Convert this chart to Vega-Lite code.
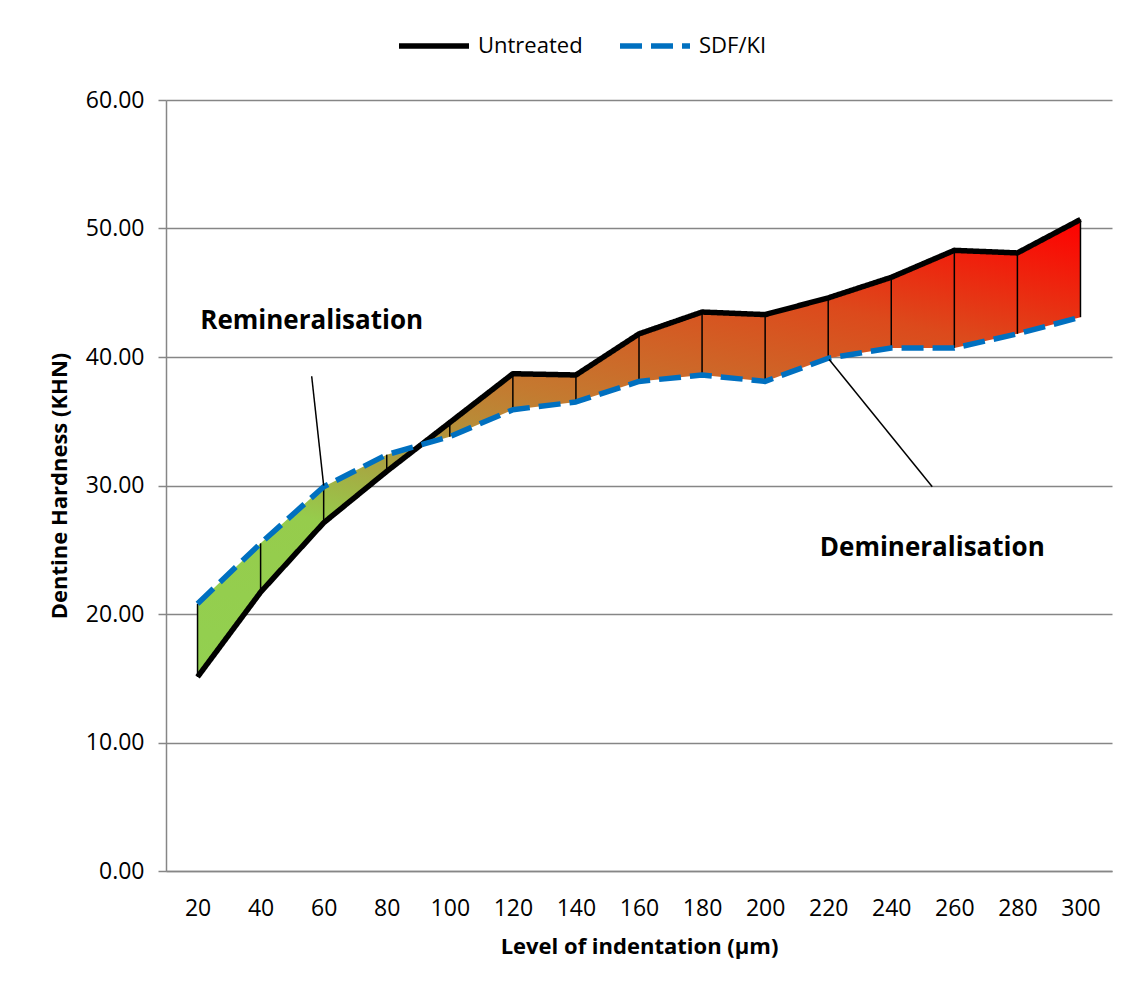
{
  "$schema": "https://vega.github.io/schema/vega-lite/v6.json",
  "width": 946,
  "height": 771,
  "autosize": "none",
  "padding": {"left": 166, "top": 100, "right": 31, "bottom": 121},
  "background": "white",
  "config": {
    "font": "Open Sans",
    "view": {"stroke": null},
    "axis": {
      "labelFont": "Open Sans",
      "titleFont": "Open Sans",
      "labelColor": "#000000",
      "titleColor": "#000000",
      "domainColor": "#868686",
      "domainWidth": 1.5,
      "gridColor": "#868686",
      "gridWidth": 1.5,
      "tickColor": "#868686",
      "tickWidth": 1.5
    }
  },
  "datasets": {
    "wide": [
      {"depth": 20, "untreated": 15.1, "sdf": 20.8},
      {"depth": 40, "untreated": 21.7, "sdf": 25.5},
      {"depth": 60, "untreated": 27.1, "sdf": 29.9},
      {"depth": 80, "untreated": 31.1, "sdf": 32.4},
      {"depth": 100, "untreated": 34.9, "sdf": 33.8},
      {"depth": 120, "untreated": 38.7, "sdf": 35.9},
      {"depth": 140, "untreated": 38.6, "sdf": 36.5},
      {"depth": 160, "untreated": 41.8, "sdf": 38.1},
      {"depth": 180, "untreated": 43.5, "sdf": 38.6},
      {"depth": 200, "untreated": 43.3, "sdf": 38.1},
      {"depth": 220, "untreated": 44.6, "sdf": 39.9},
      {"depth": 240, "untreated": 46.2, "sdf": 40.7},
      {"depth": 260, "untreated": 48.3, "sdf": 40.7},
      {"depth": 280, "untreated": 48.1, "sdf": 41.8},
      {"depth": 300, "untreated": 50.7, "sdf": 43.1}
    ],
    "long": [
      {"depth": 20, "series": "Untreated", "hardness": 15.1},
      {"depth": 40, "series": "Untreated", "hardness": 21.7},
      {"depth": 60, "series": "Untreated", "hardness": 27.1},
      {"depth": 80, "series": "Untreated", "hardness": 31.1},
      {"depth": 100, "series": "Untreated", "hardness": 34.9},
      {"depth": 120, "series": "Untreated", "hardness": 38.7},
      {"depth": 140, "series": "Untreated", "hardness": 38.6},
      {"depth": 160, "series": "Untreated", "hardness": 41.8},
      {"depth": 180, "series": "Untreated", "hardness": 43.5},
      {"depth": 200, "series": "Untreated", "hardness": 43.3},
      {"depth": 220, "series": "Untreated", "hardness": 44.6},
      {"depth": 240, "series": "Untreated", "hardness": 46.2},
      {"depth": 260, "series": "Untreated", "hardness": 48.3},
      {"depth": 280, "series": "Untreated", "hardness": 48.1},
      {"depth": 300, "series": "Untreated", "hardness": 50.7},
      {"depth": 20, "series": "SDF/KI", "hardness": 20.8},
      {"depth": 40, "series": "SDF/KI", "hardness": 25.5},
      {"depth": 60, "series": "SDF/KI", "hardness": 29.9},
      {"depth": 80, "series": "SDF/KI", "hardness": 32.4},
      {"depth": 100, "series": "SDF/KI", "hardness": 33.8},
      {"depth": 120, "series": "SDF/KI", "hardness": 35.9},
      {"depth": 140, "series": "SDF/KI", "hardness": 36.5},
      {"depth": 160, "series": "SDF/KI", "hardness": 38.1},
      {"depth": 180, "series": "SDF/KI", "hardness": 38.6},
      {"depth": 200, "series": "SDF/KI", "hardness": 38.1},
      {"depth": 220, "series": "SDF/KI", "hardness": 39.9},
      {"depth": 240, "series": "SDF/KI", "hardness": 40.7},
      {"depth": 260, "series": "SDF/KI", "hardness": 40.7},
      {"depth": 280, "series": "SDF/KI", "hardness": 41.8},
      {"depth": 300, "series": "SDF/KI", "hardness": 43.1}
    ],
    "pointers": [
      {"fromDepth": 56.2, "fromHardness": 38.5, "toDepth": 60, "toHardness": 30.0},
      {"fromDepth": 220.3, "fromHardness": 39.8, "toDepth": 253, "toHardness": 29.9}
    ],
    "notes": [
      {"depth": 56.2, "hardness": 42.8, "label": "Remineralisation"},
      {"depth": 253, "hardness": 25.1, "label": "Demineralisation"}
    ]
  },
  "layer": [
    {
      "data": {"name": "wide"},
      "mark": {
        "type": "area",
        "fill": {
          "gradient": "linear",
          "x1": 0, "y1": 1, "x2": 0.517, "y2": -0.207,
          "stops": [
            {"offset": 0, "color": "#92d050"},
            {"offset": 0.28, "color": "#96cc4c"},
            {"offset": 0.4, "color": "#aaa040"},
            {"offset": 0.55, "color": "#c47a30"},
            {"offset": 0.78, "color": "#dc4a1c"},
            {"offset": 1, "color": "#ff0000"}
          ]
        }
      },
      "encoding": {
        "x": {
          "field": "depth", "type": "quantitative",
          "scale": {"domain": [10, 310], "nice": false, "zero": false},
          "axis": {
            "values": [20, 40, 60, 80, 100, 120, 140, 160, 180, 200, 220, 240, 260, 280, 300],
            "grid": false,
            "ticks": false,
            "labelFontSize": 23,
            "labelPadding": 26,
            "title": "Level of indentation (µm)",
            "titleFontSize": 22,
            "titleFontWeight": "bold",
            "titlePadding": 16
          }
        },
        "y": {
          "field": "untreated", "type": "quantitative",
          "scale": {"domain": [0, 60], "nice": false},
          "axis": {
            "values": [0, 10, 20, 30, 40, 50, 60],
            "format": ".2f",
            "grid": true,
            "tickSize": 8,
            "labelFontSize": 23,
            "labelPadding": 14,
            "title": "Dentine Hardness (KHN)",
            "titleFontSize": 22,
            "titleFontWeight": "bold",
            "titlePadding": 14
          }
        },
        "y2": {"field": "sdf"}
      }
    },
    {
      "data": {"name": "wide"},
      "mark": {"type": "rule", "color": "#000000", "strokeWidth": 1.5},
      "encoding": {
        "x": {"field": "depth", "type": "quantitative", "scale": {"domain": [10, 310], "nice": false, "zero": false}},
        "y": {"field": "untreated", "type": "quantitative"},
        "y2": {"field": "sdf"}
      }
    },
    {
      "data": {"name": "long"},
      "mark": {"type": "line", "strokeWidth": 5.5, "strokeJoin": "round"},
      "encoding": {
        "x": {"field": "depth", "type": "quantitative", "scale": {"domain": [10, 310], "nice": false, "zero": false}},
        "y": {"field": "hardness", "type": "quantitative"},
        "color": {
          "field": "series", "type": "nominal",
          "scale": {"domain": ["Untreated", "SDF/KI"], "range": ["#000000", "#0070c0"]},
          "legend": {
            "title": null,
            "orient": "none",
            "direction": "horizontal",
            "legendX": 230,
            "legendY": -92,
            "symbolType": "stroke",
            "symbolSize": 4900,
            "symbolStrokeWidth": 5.5,
            "labelFontSize": 22,
            "labelFont": "Open Sans",
            "labelColor": "#000000",
            "labelOffset": 6,
            "columnPadding": 26,
            "padding": 0
          }
        },
        "strokeDash": {
          "field": "series", "type": "nominal",
          "scale": {"domain": ["Untreated", "SDF/KI"], "range": [[1, 0], [22, 9]]},
          "legend": {
            "title": null,
            "orient": "none",
            "direction": "horizontal",
            "legendX": 230,
            "legendY": -92,
            "symbolType": "stroke",
            "symbolSize": 4900,
            "symbolStrokeWidth": 5.5,
            "labelFontSize": 22,
            "labelFont": "Open Sans",
            "labelColor": "#000000",
            "labelOffset": 6,
            "columnPadding": 26,
            "padding": 0
          }
        }
      }
    },
    {
      "data": {"name": "pointers"},
      "mark": {"type": "rule", "color": "#000000", "strokeWidth": 1.5},
      "encoding": {
        "x": {"field": "fromDepth", "type": "quantitative", "scale": {"domain": [10, 310], "nice": false, "zero": false}},
        "y": {"field": "fromHardness", "type": "quantitative"},
        "x2": {"field": "toDepth"},
        "y2": {"field": "toHardness"}
      }
    },
    {
      "data": {"name": "notes"},
      "mark": {"type": "text", "font": "Open Sans", "fontSize": 26, "fontWeight": "bold", "color": "#000000", "align": "center", "baseline": "middle"},
      "encoding": {
        "x": {"field": "depth", "type": "quantitative", "scale": {"domain": [10, 310], "nice": false, "zero": false}},
        "y": {"field": "hardness", "type": "quantitative"},
        "text": {"field": "label"}
      }
    }
  ]
}
